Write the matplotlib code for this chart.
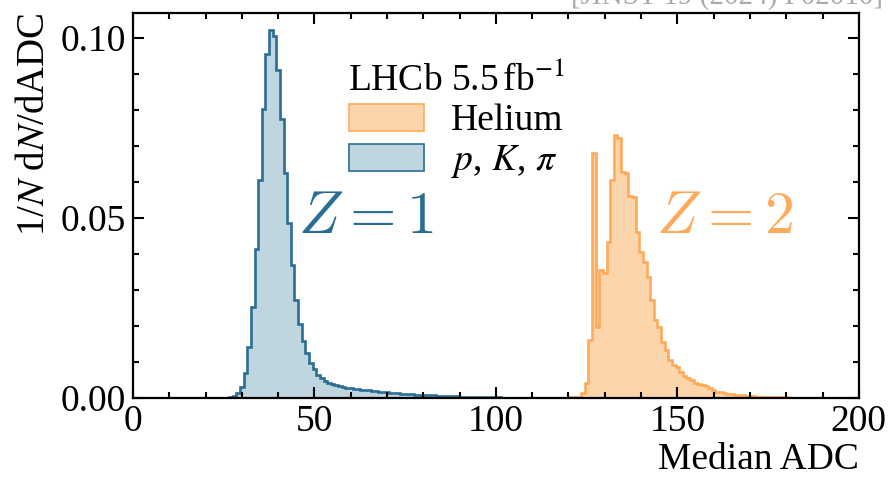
import numpy as np
import matplotlib
matplotlib.use("Agg")
import matplotlib.pyplot as plt
from matplotlib.patches import Patch
from matplotlib.ticker import MultipleLocator

plt.rcParams['font.family'] = 'serif'
plt.rcParams['font.serif'] = ['Liberation Serif', 'DejaVu Serif']
plt.rcParams['mathtext.fontset'] = 'stix'

# Z=1 hadrons (p, K, pi), bins of 1 ADC starting at 25
blue_first_bin = 25
blue_vals = [0.00005, 0.0001, 0.0002, 0.0005, 0.0015, 0.0031, 0.0069, 0.0143, 0.0252, 0.0413,
             0.0607, 0.0802, 0.0955, 0.1022, 0.1005, 0.0911, 0.0775, 0.0624, 0.0487, 0.0369,
             0.0272, 0.0205, 0.0159, 0.0125, 0.0098, 0.0081, 0.0064, 0.0055, 0.0047, 0.0042,
             0.0038, 0.0035, 0.0033, 0.0031, 0.0029, 0.0027, 0.0026, 0.0024, 0.0023, 0.0022,
             0.0021, 0.0020, 0.0019, 0.0018, 0.0017, 0.0016, 0.0015, 0.0014, 0.0013, 0.0012,
             0.0011, 0.0011, 0.0010, 0.0009, 0.0009, 0.0008, 0.0008, 0.0007, 0.0007, 0.0006,
             0.0006, 0.0006, 0.0005, 0.0005, 0.0005, 0.0004, 0.0004, 0.0004, 0.0003, 0.0003,
             0.0003, 0.0003, 0.0002, 0.0002, 0.0002, 0.0002, 0.0002, 0.0001, 0.0001, 0.0001,
             0.0001, 0.0001, 0.0001, 0.0001, 0.0001, 0.0001]

# Z=2 helium, bins of 1 ADC starting at 118
orange_first_bin = 118
orange_vals = [0.00005, 0.0001, 0.0001, 0.0002, 0.0003, 0.0004, 0.0015, 0.0043, 0.0161, 0.0682,
               0.0196, 0.0357, 0.0346, 0.0434, 0.0607, 0.0730, 0.0722, 0.0627, 0.0625, 0.0560,
               0.0558, 0.0462, 0.0406, 0.0379, 0.0335, 0.0272, 0.0217, 0.0198, 0.0156, 0.0133,
               0.0106, 0.0092, 0.0085, 0.0072, 0.0060, 0.0055, 0.0049, 0.0043, 0.0040, 0.0035,
               0.0032, 0.0027, 0.0023, 0.0018, 0.0016, 0.0013, 0.0011, 0.0010, 0.0008, 0.0008,
               0.0007, 0.0006, 0.0005, 0.0005, 0.0004, 0.0004, 0.0003, 0.0003, 0.0003, 0.0002,
               0.0002, 0.0002, 0.0002, 0.0001, 0.0001, 0.0001, 0.0001, 0.0001, 0.0001, 0.0001,
               0.0001, 0.0001, 0.0001, 0.00005, 0.00005, 0.00005, 0.00005]

blue_edge, blue_fill = '#2b6e94', '#bfd5e0'
orange_edge, orange_fill = '#ffaa5a', '#fdd5ab'
fs = 27


def bin_edges(first, n):
    return np.arange(n + 1) + first - 0.5


fig = plt.figure(figsize=(8.9, 4.78), dpi=100)
ax = fig.add_axes([0.1494, 0.1674, 0.8156, 0.8056])

eb = bin_edges(blue_first_bin, len(blue_vals))
eo = bin_edges(orange_first_bin, len(orange_vals))
ax.stairs(blue_vals, eb, fill=True, color=blue_fill, lw=0)
ax.stairs(blue_vals, eb, color=blue_edge, lw=1.9)
ax.stairs(orange_vals, eo, fill=True, color=orange_fill, lw=0)
ax.stairs(orange_vals, eo, color=orange_edge, lw=1.9)

ax.set_xlim(0, 200)
ax.set_ylim(0, 0.107)
ax.xaxis.set_major_locator(MultipleLocator(50))
ax.xaxis.set_minor_locator(MultipleLocator(10))
ax.yaxis.set_major_locator(MultipleLocator(0.05))
ax.yaxis.set_minor_locator(MultipleLocator(0.01))
ax.yaxis.set_major_formatter(matplotlib.ticker.FormatStrFormatter('%.2f'))
ax.tick_params(which='both', direction='in', top=True, right=True, width=1.5, labelsize=fs)
ax.tick_params(which='major', length=8, pad=5)
ax.tick_params(which='minor', length=4.5)
for s in ax.spines.values():
    s.set_linewidth(1.6)

ax.set_xlabel('Median ADC', fontsize=fs, loc='right', labelpad=2)
ax.set_ylabel(r'1/$N$ d$N$/dADC', fontsize=28, loc='top', labelpad=6)

ax.text(0.32, 0.465, r'$Z=1$', transform=ax.transAxes, fontsize=43, color=blue_edge,
        ha='center', va='center', math_fontfamily='cm')
ax.text(0.815, 0.465, r'$Z=2$', transform=ax.transAxes, fontsize=43, color=orange_edge,
        ha='center', va='center', math_fontfamily='cm')

handles = [Patch(facecolor=orange_fill, edgecolor=orange_edge, lw=1.2),
           Patch(facecolor=blue_fill, edgecolor=blue_edge, lw=1.2)]
leg = ax.legend(handles, ['Helium', r'$p$, $K$, $\pi$'], title=r'LHCb 5.5$\,$fb$^{-1}$',
                loc='upper left', bbox_to_anchor=(0.26, 0.94), frameon=False, fontsize=fs,
                title_fontsize=fs, handlelength=2.0, handleheight=0.75, handletextpad=0.72,
                labelspacing=0.13, borderpad=0.2)

fig.text(0.992, 1 - 4 / 478, '[JINST 19 (2024) P02010]', ha='right', va='baseline',
         fontsize=21, color='#aaaaaa')

fig.savefig('out.png', dpi=100)
